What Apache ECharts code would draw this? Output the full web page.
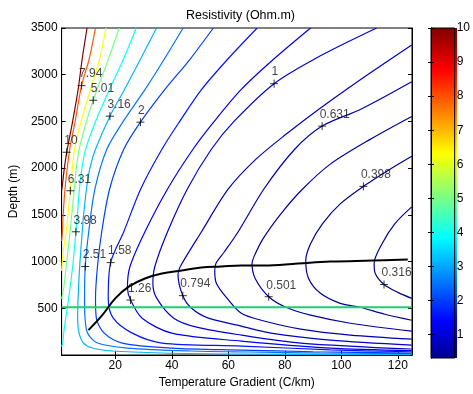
<!DOCTYPE html>
<html>
<head>
<meta charset="utf-8">
<script src="https://cdn.jsdelivr.net/npm/echarts@6/dist/echarts.min.js"></script>
<style>
  html, body { margin: 0; padding: 0; background: #fff; }
  #main { width: 473px; height: 394px; }
</style>
</head>
<body>
<div id="main"></div>
<script>
// axis ticks
const xTicks = [20, 40, 60, 80, 100, 120];
const yTicks = [500, 1000, 1500, 2000, 2500, 3000, 3500];
const cbTicks = [1, 2, 3, 4, 5, 6, 7, 8, 9, 10];
const cbMin = 0.316, cbMax = 10;

// contour lines, [gradient C/km, depth m]
const c10   = [[10.0,3500],[8.25,3160],[6.84,2840],[4.91,2500],[2.81,2170],[1.93,1989],[1.33,1830],[1.0,1760]];
const c794  = [[13.0,3500],[10.7,3160],[8.07,2883],[5.8,2500],[3.86,2202],[2.21,1777],[1.58,1511],[1.23,1298],[1.0,1220]];
const c631  = [[16.7,3500],[14.4,3160],[11.2,2840],[7.9,2500],[5.6,2202],[4.8,2000],[4.1,1758],[2.63,1319],[1.58,1106],[1.0,900]];
const c501  = [[21.4,3500],[17.5,3160],[12.2,2727],[9.8,2500],[7.2,2202],[6.2,2000],[5.5,1777],[4.6,1500],[4.0,1319],[2.63,947],[1.75,713],[1.0,600]];
const c398  = [[27.4,3500],[22.8,3160],[17.9,2840],[13.0,2500],[9.5,2202],[8.2,2000],[7.3,1777],[6.6,1500],[6.07,1319],[4.91,947],[3.5,606],[2.46,394],[1.75,234],[1.4,128],[1.0,90]];
const c316  = [[34.6,3500],[28.8,3160],[23.2,2840],[18.1,2556],[13.0,2202],[11.0,2000],[9.8,1777],[8.8,1500],[8.3,1319],[7.4,947],[6.84,606],[6.67,394],[7.19,234],[8.77,128],[11.9,74.5],[18.9,42.6],[36.5,21.3],[64.6,10.6],[124.9,3]];
const c251  = [[44.0,3500],[37.2,3160],[30.5,2840],[22.8,2500],[17.0,2202],[12.8,1777],[10.6,1319],[9.37,947],[9.12,606],[9.3,394],[10.2,234],[13.7,128],[24.2,74.5],[47,42.6],[68,32],[92.6,21.3],[124.9,16]];
const c200  = [[54.7,3500],[46.3,3160],[37.5,2840],[28.9,2492],[23.0,2202],[18.0,1777],[15.2,1319],[13.7,947],[13.0,606],[13.3,394],[16.1,234],[22.5,128],[40,74.5],[64.6,53],[90,35],[124.9,21]];
const c158  = [[70.2,3500],[59.6,3160],[50.5,2840],[42.8,2500],[36.5,2202],[29.0,1777],[23.0,1319],[18.35,989],[17.5,606],[19.3,394],[26,234],[36.5,128],[64.6,96],[96.1,55],[124.9,35]];
const c126  = [[89.1,3500],[75.8,3160],[64.5,2840],[55.0,2500],[47.5,2202],[38.5,1777],[30.5,1319],[25.2,947],[24.3,720],[25.4,588],[29.5,394],[40,234],[64.6,149],[96.1,74.5],[124.9,48]];
const c100  = [[112.5,3500],[92.6,3202],[76.2,2904],[62,2500],[54,2202],[45.5,1777],[38.5,1319],[34,947],[33.3,766],[34.7,606],[40.7,394],[48.8,298],[64.6,213],[85.6,128],[124.9,64]];
const c0794 = [[124.9,3319],[106.7,2947],[91.9,2628],[80.4,2362],[69.8,2096],[60,1777],[50.5,1319],[43,947],[42.2,862],[43.9,635],[47.0,500],[53.0,394],[64.6,309],[75.1,234],[96.1,160],[124.9,106]];
const c0631 = [[124.9,2925],[106.7,2628],[93.2,2450],[83.5,2202],[72.6,1777],[63.5,1319],[58.5,1100],[55.6,980],[55.2,900],[55.8,766],[59.6,606],[64.6,447],[71.6,372],[85.6,277],[103.2,213],[124.9,170]];
const c0501 = [[124.9,2553],[110.2,2308],[96.1,2043],[86.3,1777],[78.6,1511],[72.3,1245],[69.1,1053],[68.4,979],[69.5,819],[74.3,624],[80.4,511],[89.1,426],[103.2,340],[124.9,255]];
const c0398 = [[124.9,2128],[117.2,1989],[107.8,1805],[99.6,1617],[93.3,1404],[89.1,1191],[87.4,1011],[88.4,819],[92.6,660],[99.6,553],[106.7,511],[115.4,436],[124.9,372]];
const c0316 = [[124.9,1585],[118.9,1404],[114.4,1191],[111.6,979],[112.0,872],[115.1,755],[120.0,670],[124.9,606]];

const levels = [10, 7.94, 6.31, 5.01, 3.98, 3.16, 2.51, 2, 1.58, 1.26, 1, 0.794, 0.631, 0.501, 0.398, 0.316];
const lines  = [c10, c794, c631, c501, c398, c316, c251, c200, c158, c126, c100, c0794, c0631, c0501, c0398, c0316];

// label points: [gradient, depth, text]
const labelPts = [
  [2.81, 2170, '10'], [8.07, 2883, '7.94'], [4.1, 1758, '6.31'], [12.2, 2727, '5.01'],
  [6.07, 1319, '3.98'], [18.1, 2556, '3.16'], [9.37, 947, '2.51'], [28.9, 2492, '2'],
  [18.35, 989, '1.58'], [25.4, 588, '1.26'], [76.2, 2904, '1'], [43.9, 635, '0.794'],
  [93.2, 2450, '0.631'], [74.3, 624, '0.501'], [107.8, 1805, '0.398'], [115.1, 755, '0.316']
];

// depth of minimum resistivity (black) and the green marker depth
const minDepth = [[10.5,266],[15.4,426],[20,606],[24.9,734],[30.5,819],[36.5,872],[43.5,904],[50.5,936],[57.5,947],[64.6,957],[72.6,957],[84.6,979],[96.1,1000],[111.2,1011],[123.5,1021]];
const greenDepth = 510;

const jetStops = [[0, [0,0,143]], [0.111, [0,0,255]], [0.365, [0,255,255]], [0.619, [255,255,0]], [0.873, [255,0,0]], [1, [128,0,0]]];

function jet(v) {
  let f = (v - cbMin) / (cbMax - cbMin);
  f = Math.max(0, Math.min(1, f));
  for (let i = 1; i < jetStops.length; i++) {
    if (f <= jetStops[i][0]) {
      const a = jetStops[i - 1], b = jetStops[i];
      const t = (f - a[0]) / (b[0] - a[0]);
      const c = a[1].map((x, k) => Math.round(x + (b[1][k] - x) * t));
      return 'rgb(' + c.join(',') + ')';
    }
  }
  return 'rgb(128,0,0)';
}

const font = 'Liberation Sans, Arial, Helvetica, sans-serif';
const chart = echarts.init(document.getElementById('main'), null, { renderer: 'canvas' });

let series = lines.map((pts, i) => ({
  type: 'line',
  xAxisIndex: 0, yAxisIndex: 0,
  data: pts,
  symbol: 'none',
  smooth: 0.3,
  silent: true,
  z: 2,
  lineStyle: { color: jet(levels[i]), width: 1.2 }
}));

series.push({
  type: 'line', xAxisIndex: 0, yAxisIndex: 0,
  data: [[1, greenDepth], [125, greenDepth]],
  symbol: 'none', silent: true, z: 3,
  lineStyle: { color: '#22cc70', width: 2 }
});
series.push({
  type: 'line', xAxisIndex: 0, yAxisIndex: 0,
  data: minDepth, symbol: 'none', smooth: 0.4, silent: true, z: 4,
  lineStyle: { color: '#000', width: 2 }
});
series.push({
  type: 'scatter', xAxisIndex: 0, yAxisIndex: 0,
  data: labelPts,
  symbol: 'path://M5,0L5,10M0,5L10,5',
  symbolSize: 8,
  silent: true, z: 5,
  itemStyle: { color: 'none', borderColor: '#000', borderWidth: 1 },
  label: {
    show: true, position: [4, -11],
    formatter: p => p.value[2],
    color: '#111', fontSize: 12, fontFamily: font
  }
});

const tickStyle = { color: '#000', width: 1 };

chart.setOption({
  animation: false,
  backgroundColor: '#fff',
  title: {
    text: 'Resistivity (Ohm.m)',
    left: 235.5, top: 4, textAlign: 'center',
    textStyle: { fontSize: 12.5, fontWeight: 'normal', color: '#000', fontFamily: font }
  },
  grid: [
    { left: 59, top: 28, width: 353, height: 329, show: true, borderColor: '#000', borderWidth: 1, backgroundColor: 'transparent' },
    { left: 431, top: 28, width: 26, height: 330, show: true, borderColor: '#000', borderWidth: 1, backgroundColor: 'transparent' }
  ],
  graphic: [{
    type: 'rect', z: -1, silent: true,
    shape: { x: 431, y: 28, width: 26, height: 330 },
    style: { fill: new echarts.graphic.LinearGradient(0, 1, 0, 0,
      jetStops.map(s => ({ offset: s[0], color: 'rgb(' + s[1].join(',') + ')' }))) }
  }],
  xAxis: [
    {
      type: 'value', gridIndex: 0, min: 1, max: 125, position: 'bottom',
      name: 'Temperature Gradient (C/km)', nameLocation: 'middle', nameGap: 22,
      nameTextStyle: { color: '#000', fontSize: 12, fontFamily: font },
      axisLine: { lineStyle: tickStyle },
      axisTick: { inside: true, length: 4, customValues: xTicks, lineStyle: tickStyle },
      axisLabel: { customValues: xTicks, color: '#000', fontSize: 12, margin: 5, fontFamily: font, formatter: v => String(v) },
      splitLine: { show: false }
    },
    {
      type: 'value', gridIndex: 0, min: 1, max: 125, position: 'top',
      axisLine: { lineStyle: tickStyle },
      axisTick: { inside: true, length: 4, customValues: xTicks, lineStyle: tickStyle },
      axisLabel: { show: false }, splitLine: { show: false }
    },
    { type: 'value', gridIndex: 1, min: 0, max: 1, show: false }
  ],
  yAxis: [
    {
      type: 'value', gridIndex: 0, min: 0, max: 3500, position: 'left',
      name: 'Depth (m)', nameLocation: 'middle', nameGap: 41,
      nameTextStyle: { color: '#000', fontSize: 12, fontFamily: font },
      axisLine: { lineStyle: tickStyle },
      axisTick: { inside: true, length: 4, customValues: yTicks, lineStyle: tickStyle },
      axisLabel: { customValues: yTicks, color: '#000', fontSize: 12, margin: 4, fontFamily: font, formatter: v => String(v) },
      splitLine: { show: false }
    },
    {
      type: 'value', gridIndex: 0, min: 0, max: 3500, position: 'right',
      axisLine: { lineStyle: tickStyle },
      axisTick: { inside: true, length: 4, customValues: yTicks, lineStyle: tickStyle },
      axisLabel: { show: false }, splitLine: { show: false }
    },
    {
      type: 'value', gridIndex: 1, min: cbMin, max: cbMax, position: 'right', z: 5,
      axisLine: { lineStyle: tickStyle },
      axisTick: { inside: true, length: 3, customValues: cbTicks, lineStyle: tickStyle },
      axisLabel: { customValues: cbTicks, color: '#000', fontSize: 12, margin: 2, fontFamily: font, formatter: v => String(v) },
      splitLine: { show: false }
    },
    {
      type: 'value', gridIndex: 1, min: cbMin, max: cbMax, position: 'left', z: 5,
      axisLine: { lineStyle: tickStyle },
      axisTick: { inside: true, length: 3, customValues: cbTicks, lineStyle: tickStyle },
      axisLabel: { show: false }, splitLine: { show: false }
    }
  ],
  series: series
});
</script>
</body>
</html>
